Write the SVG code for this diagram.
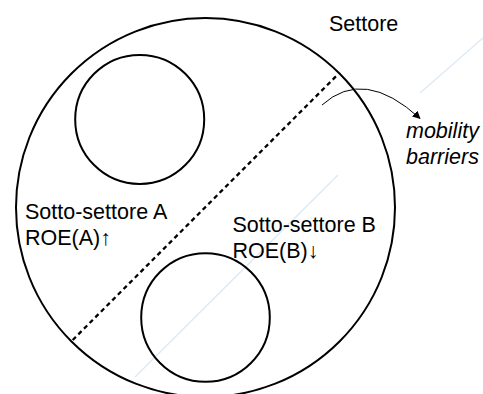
<svg xmlns="http://www.w3.org/2000/svg" width="483" height="394" viewBox="0 0 483 394">
  <defs>
    <style>
      .c { fill: none; stroke: #000; stroke-width: 2; }
      .t { font-family: "Liberation Sans", Arial, sans-serif; font-size: 21.5px; fill: #000; }
      .i { font-style: italic; }
      .wm { stroke: #dbe8f4; stroke-width: 1.2; fill: none; }
    </style>
    <marker id="ah" viewBox="0 0 10 10" refX="9" refY="5" markerWidth="8" markerHeight="8" markerUnits="userSpaceOnUse" orient="auto">
      <path d="M0,0 L10,5 L0,10 Z" fill="#000"/>
    </marker>
  </defs>
  <rect width="483" height="394" fill="#fff"/>
  <g id="watermark">
    <line class="wm" x1="135" y1="377" x2="338" y2="175"/>
    <line class="wm" x1="420" y1="93" x2="483" y2="38"/>
  </g>
  <g id="settore">
    <circle class="c" cx="205.5" cy="207.5" r="189.5"/>
    <text class="t" x="329" y="31">Settore</text>
  </g>
  <g id="circle-top">
    <circle class="c" cx="139.7" cy="119.4" r="64.5"/>
  </g>
  <g id="circle-bottom">
    <circle class="c" cx="205.5" cy="317.5" r="64.3"/>
  </g>
  <g id="sotto-a">
    <text class="t" x="25" y="218.5">Sotto-settore A</text>
    <text class="t" x="25" y="245">ROE(A)↑</text>
  </g>
  <g id="sotto-b">
    <text class="t" x="232.5" y="231.5">Sotto-settore B</text>
    <text class="t" x="232.5" y="258">ROE(B)↓</text>
  </g>
  <g id="mobility">
    <text class="t i" x="406" y="137.5">mobility</text>
    <text class="t i" x="406" y="164">barriers</text>
  </g>
  <g id="connectors">
    <line x1="72.7" y1="340" x2="337.3" y2="75" stroke="#000" stroke-width="2.3" stroke-dasharray="4.5 3.5"/>
    <path d="M322,105 Q364,67 420,118.5" fill="none" stroke="#000" stroke-width="1" marker-end="url(#ah)"/>
  </g>
</svg>
